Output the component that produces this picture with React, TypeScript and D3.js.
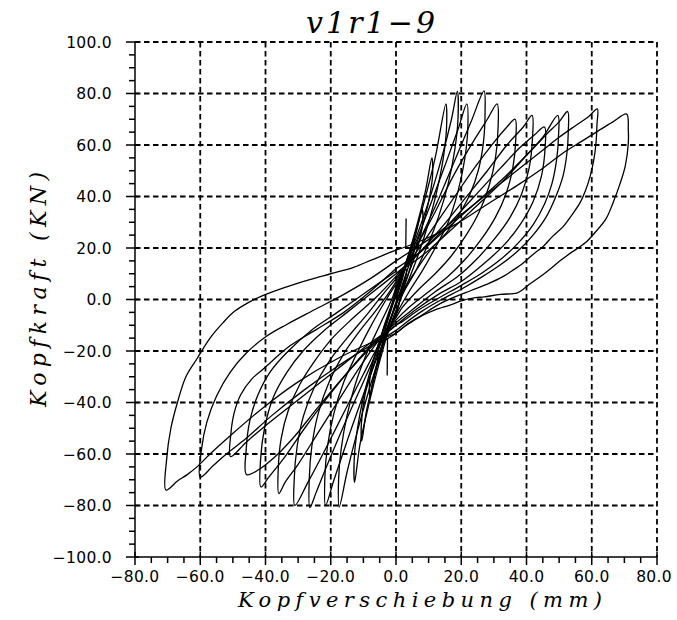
import React from "react";
import * as d3 from "d3";

const xTicks = [-80, -60, -40, -20, 0, 20, 40, 60, 80];
const yTicks = [-100, -80, -60, -40, -20, 0, 20, 40, 60, 80, 100];
const titleText = "v1r1\u22129";
const xTitle = "Kopfverschiebung (mm)";
const yTitle = "Kopfkraft (KN)";

const loop01 = [[0,0],[1.5,6],[3,12],[3.2,10],[2,5],[0,-1],[-1.5,-7],[-3,-13],[-3.1,-10],[-2,-5],[0,1]];
const loop02 = [[0,1],[2,9],[4,17],[5.5,24],[5.6,20],[4.5,13],[2.5,5],[0,-2],[-2,-9],[-4,-17],[-5.5,-25],[-5.6,-21],[-4.5,-14],[-2.5,-6],[0,2]];
const loop03 = [[0,2],[3,13],[6,25],[8,35],[8.2,30],[7,22],[5,14],[2.5,6],[0,-2],[-2.5,-10],[-5,-21],[-7,-31],[-8,-38],[-8.1,-32],[-7,-24],[-5,-16],[-2.5,-7],[0,3]];
const loop04 = [[0,3],[3,14],[6,27],[9,42],[11,55],[11.2,48],[10,38],[8,28],[5,17],[2,6],[0,-2],[-3,-13],[-6,-27],[-9,-43],[-10.5,-55],[-10.6,-48],[-9.5,-37],[-7,-26],[-4,-14],[-1,-2],[0,4]];
const loop05 = [[0,4],[4,18],[8,35],[12,55],[15.3,76],[15.5,67],[14.5,55],[12.5,42],[10,30],[7,18],[4,8],[1,-1],[-2,-11],[-5,-24],[-8,-39],[-11,-56],[-12.7,-71],[-12.8,-62],[-11.8,-50],[-10,-38],[-7.5,-26],[-4.5,-14],[-1.5,-3],[0,4]];
const loop06 = [[0,4],[5,20],[10,38],[14,55],[17,70],[18.8,80.8],[19,70],[18,58],[16,45],[13,32],[10,22],[6,11],[2,2],[0,-5],[-4,-18],[-8,-34],[-12,-52],[-15,-67],[-17.4,-80.5],[-17.6,-70],[-16.8,-58],[-15,-45],[-12.5,-33],[-9,-21],[-5,-10],[-1,1],[0,5]];
const loop07 = [[0,5],[5,19],[10,35],[15,52],[19,66],[21.7,76],[22,66],[21,54],[19,42],[16,30],[12,20],[8,11],[4,3],[0,-6],[-5,-20],[-10,-37],[-15,-55],[-19,-70],[-21.6,-80],[-21.8,-69],[-21,-57],[-19,-44],[-16,-32],[-12,-21],[-8,-11],[-3,0],[0,6]];
const loop08 = [[0,6],[6,20],[12,36],[18,54],[23,69],[27,81],[27.3,73],[26.8,61],[25.2,50],[22.7,41],[19.6,33.6],[15.5,26],[10.4,19],[6,11],[2,3],[0,-6],[-5,-18],[-10,-32],[-16,-49],[-21,-64],[-24.5,-75],[-26.4,-80.8],[-26.6,-70],[-25.8,-57],[-23.8,-44],[-20.5,-32],[-16,-21],[-11,-12],[-6,-4],[-2,3],[0,7]];
const loop09 = [[0,7],[6,20],[12,34],[18,49],[24,62],[28,70],[31,76],[31.3,67],[30.5,55],[28.5,44],[25.5,34],[21.5,25],[17,17],[12,10],[7,4],[2,-3],[0,-7],[-5,-17],[-10,-29],[-16,-44],[-22,-59],[-27,-71],[-31,-80],[-31.2,-70],[-30.3,-57],[-28.3,-45],[-25,-34],[-20.5,-24],[-15,-15],[-9,-6],[-4,2],[0,8]];
const loop10 = [[0,8],[6,18],[12,29],[18,40],[24,51],[30,61],[34,67],[36.5,70],[36.7,62],[35.8,51],[33.7,41],[30.5,32],[26.5,24],[21.5,16],[16,9],[10,3],[4,-3],[0,-8],[-6,-17],[-12,-28],[-18,-40],[-24,-52],[-30,-64],[-34,-71],[-35.9,-75.4],[-36.1,-66],[-35.2,-54],[-33,-43],[-29.5,-33],[-25,-24],[-19.5,-15],[-13,-7],[-6,1],[0,9]];
const loop11 = [[0,9],[7,18],[14,28],[21,39],[28,50],[34,60],[39,67],[41.7,71.5],[41.8,62],[40.8,51],[38.5,41],[35,32],[30.5,24],[25,16],[19,9],[12,3],[5,-4],[0,-9],[-7,-17],[-14,-27],[-21,-38],[-28,-50],[-34,-61],[-39,-69],[-41.4,-72.8],[-41.5,-62],[-40.3,-50],[-37.6,-38],[-33.5,-28.4],[-28.5,-20],[-22,-12],[-15,-5],[-7,3],[0,10]];
const loop11b = [[0,10],[8,19],[16,29],[24,40],[32,51],[38,59],[42.5,64],[45.5,67],[45.7,59],[44.6,48],[42,38],[38,29],[33,21],[27,14],[20,7],[13,2],[6,-4],[0,-10],[-8,-19],[-16,-30],[-24,-42],[-31,-53],[-37,-61],[-42,-66],[-45.8,-68],[-45.9,-58],[-44.8,-47],[-42.3,-37],[-38.5,-28],[-33,-20],[-26,-12],[-18,-5],[-9,3],[0,11]];
const loop12 = [[0,10],[8,17],[16,26],[24,35.5],[32,45],[40,56],[45,63],[49.6,71.5],[49.8,63],[49.2,54],[47.8,45],[45.5,37],[42,29],[37.5,22],[32,15.5],[26,10],[20,5.5],[13,0.5],[7,-4],[2,-8.5],[0,-10],[-8,-17],[-16,-25],[-24,-33],[-32,-41],[-40,-49],[-46,-55.5],[-50.7,-61],[-50.6,-52],[-49.6,-44],[-47.6,-37],[-44.3,-31],[-40.7,-27],[-32.5,-18],[-24.3,-11.6],[-16,-5],[-8,3],[0,12]];
const loop13 = [[0,12],[8,19],[16,28],[24,37],[32,46],[40,56],[46,64],[50,69],[52.6,73],[52.8,65],[52.4,57],[51.2,48],[49,40],[46,32],[42,25],[37.5,19],[32,13.5],[26,8.5],[20,4],[14,0],[8,-4.5],[3,-9],[0,-12],[-8,-18],[-18,-26],[-28,-35],[-38,-45],[-46,-54],[-52,-60],[-56,-64.5],[-60,-69],[-59.6,-58],[-58,-47.7],[-55,-37.5],[-50.9,-28.4],[-45.8,-20.7],[-39.6,-14.2],[-33.5,-9.7],[-25,-4],[-16,2],[-8,8],[0,15]];
const loop14 = [[0,15],[6,20],[12,25],[20,33],[28,41],[36,49],[44,57],[50,63],[55,67.5],[59,71],[61.7,74],[61.6,68],[61.3,60.7],[60.6,54],[59.5,47.8],[58,42],[56.4,37.5],[54,33],[51.3,28.4],[48,24.5],[45.2,20.7],[42,17.5],[39,14.2],[36,11.5],[32.9,9],[28,6],[23,3.5],[18,1],[13,-2],[8,-6],[3,-10],[0,-13],[-8,-17],[-18,-23],[-30,-32],[-40.7,-42],[-50.9,-53],[-57,-60],[-61,-65],[-64,-68],[-67,-70.5],[-70.5,-74],[-70.3,-62],[-69,-50],[-67,-40],[-64.4,-30],[-61,-23],[-57,-15],[-53,-9],[-49.6,-4.7],[-45,-1],[-41.2,1.3],[-34,4.7],[-27,7.5],[-20,10],[-13,12.5],[-7.4,15.4],[-1,18.7],[2,20]];
const loop15 = [[2,20],[8,23],[18,29],[28,37],[38,45],[45,51],[51,56.7],[57,61.5],[62,65.5],[66.5,69],[70.7,72],[71.2,66],[71.2,60.7],[70.3,52],[68.6,44.7],[66.5,37.5],[64.4,31.4],[61,26],[58,22],[54,18.5],[50.7,15.4],[45.4,10],[41,6],[39,4],[37,2.5],[32,2],[27,1],[24.3,0.7],[20,-0.5],[17,-2],[12,-4],[8.4,-6],[3.2,-10],[-1,-14],[-5,-17]];
const spikeA = [[3,20],[3.1,31.5]];
const spikeB = [[-2.6,-15],[-2.7,-29.5]];

const loops = [loop01, loop02, loop03, loop04, loop05, loop06, loop07, loop08, loop09, loop10, loop11, loop11b, loop12, loop13, loop14, loop15];
const spikes = [spikeA, spikeB];

export default function App() {
  const W = 677, H = 620;
  const x = d3.scaleLinear().domain([-80, 80]).range([135, 657]);
  const y = d3.scaleLinear().domain([-100, 100]).range([557, 42]);
  const curve = d3.line<number[]>().x(d => x(d[0])).y(d => y(d[1])).curve(d3.curveCatmullRom.alpha(0.5));
  const straight = d3.line<number[]>().x(d => x(d[0])).y(d => y(d[1]));
  const x0 = x(-80), yB = y(-100);
  const minorX = d3.range(-80, 80.1, 5).filter(v => v % 20 !== 0);
  const minorY = d3.range(-100, 100.1, 5).filter(v => v % 20 !== 0);
  const tickFont = { fontFamily: "'DejaVu Sans', sans-serif", fontSize: 15.5, letterSpacing: 0.3 } as any;
  const serifIt = { fontFamily: "'DejaVu Serif', serif", fontStyle: "italic" } as any;
  const fmt = (v: number) => (v < 0 ? "\u2212" : "") + Math.abs(v).toFixed(1);
  return (
    <svg width={W} height={H} style={{ position: "absolute", left: 0, top: 0, background: "#fff" }}>
      <rect width={W} height={H} fill="#fff" />
      <g stroke="#000" strokeWidth={1.8} strokeDasharray="5.5,3.5" fill="none">
        {xTicks.filter(v => v !== -80).map(v => (
          <line key={"gx" + v} x1={x(v)} x2={x(v)} y1={y(100)} y2={y(-100)} />
        ))}
        {yTicks.filter(v => v !== -100).map(v => (
          <line key={"gy" + v} x1={x(-80)} x2={x(80)} y1={y(v)} y2={y(v)} />
        ))}
      </g>
      <g stroke="#000" strokeWidth={1.5} fill="none">
        <line x1={x0} x2={x0} y1={y(100)} y2={yB} />
        <line x1={x0} x2={x(80)} y1={yB} y2={yB} />
        {yTicks.map(v => <line key={"ty" + v} x1={x0 - 9} x2={x0 + 4} y1={y(v)} y2={y(v)} />)}
        {minorY.map(v => <line key={"my" + v} x1={x0 - 6} x2={x0} y1={y(v)} y2={y(v)} />)}
        {xTicks.map(v => <line key={"tx" + v} x1={x(v)} x2={x(v)} y1={yB - 5} y2={yB + 8} />)}
        {minorX.map(v => <line key={"mx" + v} x1={x(v)} x2={x(v)} y1={yB} y2={yB + 6} />)}
      </g>
      <g stroke="#000" strokeWidth={1.3} fill="none" strokeLinejoin="round">
        {loops.map((l, i) => <path key={"l" + i} d={curve(l) || ""} />)}
        {spikes.map((l, i) => <path key={"s" + i} d={straight(l) || ""} />)}
      </g>
      <g style={tickFont} fill="#000">
        {yTicks.map(v => (
          <text key={"ly" + v} x={112} y={y(v)} dy="0.36em" textAnchor="end">{fmt(v)}</text>
        ))}
        {xTicks.map(v => (
          <text key={"lx" + v} x={v === 80 ? x(v) - 3 : x(v)} y={582} textAnchor="middle">{fmt(v)}</text>
        ))}
      </g>
      <text x={306} y={33} style={{ ...serifIt, fontSize: 30 }} textLength={129} lengthAdjust="spacing">{titleText}</text>
      <text x={238} y={607} style={{ ...serifIt, fontSize: 21 }} textLength={364} lengthAdjust="spacing">{xTitle}</text>
      <text transform="translate(46,407) rotate(-90)" style={{ ...serifIt, fontSize: 22 }} textLength={235} lengthAdjust="spacing">{yTitle}</text>
    </svg>
  );
}
